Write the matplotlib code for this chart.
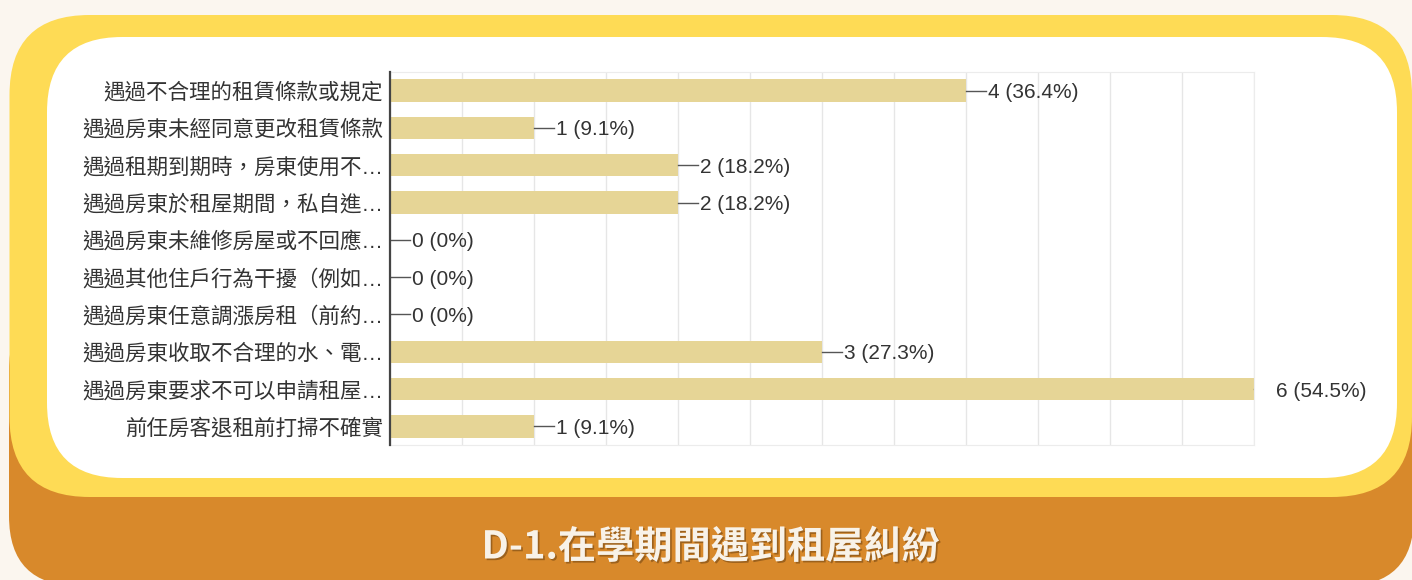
import numpy as np
import matplotlib
matplotlib.use('Agg')
import matplotlib.pyplot as plt
from matplotlib.patches import FancyBboxPatch
import matplotlib.patheffects as pe

plt.rcParams['font.family'] = ['Noto Sans CJK TC', 'DejaVu Sans']

# 資料
categories = ['遇過不合理的租賃條款或規定', '遇過房東未經同意更改租賃條款', '遇過租期到期時，房東使用不…',
              '遇過房東於租屋期間，私自進…', '遇過房東未維修房屋或不回應…', '遇過其他住戶行為干擾（例如…',
              '遇過房東任意調漲房租（前約…', '遇過房東收取不合理的水、電…', '遇過房東要求不可以申請租屋…',
              '前任房客退租前打掃不確實']
counts = [4, 1, 2, 2, 0, 0, 0, 3, 6, 1]
percents = ['36.4%', '9.1%', '18.2%', '18.2%', '0%', '0%', '0%', '27.3%', '54.5%', '9.1%']
title = 'D-1.在學期間遇到租屋糾紛'

W, H = 1412, 580
fig = plt.figure(figsize=(W / 100, H / 100), dpi=100)
fig.patch.set_facecolor('#FBF6EF')

# 背景卡片
bg = fig.add_axes([0, 0, 1, 1])
bg.set_xlim(0, W)
bg.set_ylim(H, 0)
bg.axis('off')


def card(x0, y0, x1, y1, r, color):
    bg.add_patch(FancyBboxPatch((x0, y0), x1 - x0, y1 - y0,
                                boxstyle='round,pad=0,rounding_size=%d' % r,
                                fc=color, ec='none'))


card(9, 300, 1414, 586, 70, '#D8892B')
card(9.5, 15, 1412, 497, 80, '#FEDB55')
card(47, 37, 1397, 478, 75, 'white')

# 長條圖
left, right, top, bottom = 390, 1254, 72, 445
ax = fig.add_axes([left / W, 1 - bottom / H, (right - left) / W, (bottom - top) / H])
y = np.arange(len(categories))
ax.barh(y, counts, height=0.6, color='#E6D596', zorder=2)
ax.set_xlim(0, 6)
ax.set_ylim(len(categories) - 0.5, -0.5)
ax.set_xticks(np.arange(0, 6.01, 0.5))
ax.set_xticklabels([])
ax.xaxis.grid(True, color='#e6e6e6', lw=1, zorder=0)
ax.set_yticks(y)
ax.set_yticklabels(categories, fontsize=15.5, color='#333333',
                   family=['Liberation Sans', 'Noto Sans CJK TC'])
ax.tick_params(length=0, pad=5)
for s in ['top', 'right', 'bottom']:
    ax.spines[s].set_color('#ececec')
ax.spines['left'].set_color('#444444')
ax.spines['left'].set_linewidth(1.6)
ax.spines['left'].set_zorder(3)

for i, (c, p) in enumerate(zip(counts, percents)):
    ax.plot([c, c + 0.14], [i, i], color='#555555', lw=1, zorder=3)
    ax.text(c + 0.15, i, '%d (%s)' % (c, p), va='center_baseline', ha='left', fontsize=15,
            color='#333333', family='Liberation Sans', clip_on=False)

fig.text(711 / W, 1 - 547 / H, title, ha='center', va='center', fontsize=27.5,
         fontweight='bold', color='#F8F2E8',
         path_effects=[pe.SimplePatchShadow(offset=(1.2, -1.2), shadow_rgbFace='#6b4010', alpha=0.55),
                       pe.Normal()])

fig.savefig('out.png', dpi=100, facecolor=fig.get_facecolor())
